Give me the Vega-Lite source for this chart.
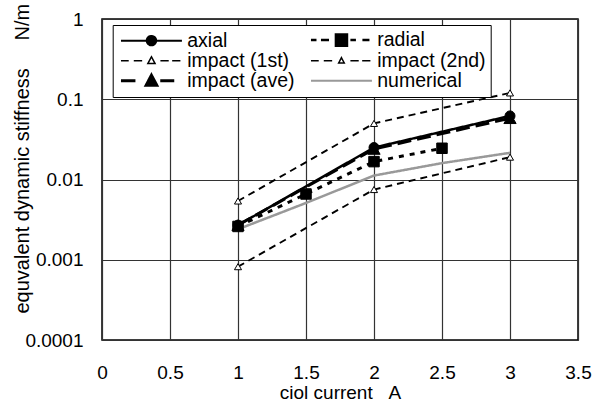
{
  "$schema": "https://vega.github.io/schema/vega-lite/v6.json",
  "width": 476,
  "height": 321,
  "autosize": {"type": "none"},
  "padding": {"left": 102, "top": 19, "right": 34, "bottom": 62},
  "background": "white",
  "config": {
    "view": {"stroke": "black", "strokeWidth": 1.5},
    "font": "Liberation Sans",
    "axis": {
      "domain": false, "ticks": false, "tickSize": 0, "grid": true,
      "gridColor": "#333333", "gridWidth": 1.2, "gridOpacity": 1,
      "labelFont": "Liberation Sans", "labelFontSize": 19, "labelColor": "black",
      "titleFont": "Liberation Sans", "titleFontSize": 19, "titleFontWeight": "normal", "titleColor": "black"
    }
  },
  "data": {
    "values": [
      {"series": "axial", "current": 1, "stiffness": 0.0027},
      {"series": "axial", "current": 2, "stiffness": 0.025},
      {"series": "axial", "current": 3, "stiffness": 0.062},
      {"series": "radial", "current": 1, "stiffness": 0.0026},
      {"series": "radial", "current": 1.5, "stiffness": 0.0066},
      {"series": "radial", "current": 2, "stiffness": 0.0167},
      {"series": "radial", "current": 2.5, "stiffness": 0.0245},
      {"series": "impact (1st)", "current": 1, "stiffness": 0.0054},
      {"series": "impact (1st)", "current": 2, "stiffness": 0.05},
      {"series": "impact (1st)", "current": 3, "stiffness": 0.12},
      {"series": "impact (2nd)", "current": 1, "stiffness": 0.00082},
      {"series": "impact (2nd)", "current": 2, "stiffness": 0.0075},
      {"series": "impact (2nd)", "current": 3, "stiffness": 0.019},
      {"series": "impact (ave)", "current": 1, "stiffness": 0.0027},
      {"series": "impact (ave)", "current": 2, "stiffness": 0.024},
      {"series": "impact (ave)", "current": 3, "stiffness": 0.058},
      {"series": "numerical", "current": 1, "stiffness": 0.0024},
      {"series": "numerical", "current": 1.5, "stiffness": 0.0051},
      {"series": "numerical", "current": 2, "stiffness": 0.0112},
      {"series": "numerical", "current": 2.5, "stiffness": 0.016},
      {"series": "numerical", "current": 3, "stiffness": 0.0215}
    ]
  },
  "layer": [
    {
      "mark": {"type": "line", "clip": true},
      "encoding": {
        "x": {
          "field": "current", "type": "quantitative",
          "scale": {"domain": [0, 3.5], "nice": false, "zero": false},
          "axis": {
            "values": [0, 0.5, 1, 1.5, 2, 2.5, 3, 3.5], "format": "~g",
            "labelFlush": false, "labelOverlap": false, "labelPadding": 23,
            "title": "ciol current\u00a0\u00a0\u00a0A", "titleY": 43, "titleBaseline": "top"
          }
        },
        "y": {
          "field": "stiffness", "type": "quantitative",
          "scale": {"type": "log", "domain": [0.0001, 1], "nice": false},
          "axis": {
            "values": [0.0001, 0.001, 0.01, 0.1, 1], "format": "~g",
            "labelPadding": 19, "labelOverlap": false, "labelFlush": false,
            "title": "equvalent dynamic stiffness\u00a0\u00a0\u00a0\u00a0\u00a0N/m",
            "titleFontSize": 20,
            "titleX": -73.5, "titleY": 294, "titleAlign": "left", "titleBaseline": "alphabetic", "titleAngle": 270
          }
        },
        "stroke": {
          "field": "series", "type": "nominal",
          "scale": {
            "domain": ["axial", "impact (1st)", "impact (ave)", "radial", "impact (2nd)", "numerical"],
            "range": ["black", "black", "black", "black", "black", "#999999"]
          },
          "legend": {
            "title": null, "orient": "none", "legendX": 10.7, "legendY": 6,
            "columns": 2, "columnPadding": 11, "rowPadding": -3, "padding": 5,
            "fillColor": "white", "strokeColor": "black",
            "symbolSize": 256, "symbolOffset": 24, "labelOffset": 26,
            "labelFont": "Liberation Sans", "labelFontSize": 19.5, "labelColor": "black", "labelLimit": 300,
            "encode": {
              "symbols": {
                "update": {
                  "shape": {"signal": "datum.value === 'axial' ? 'M-3.81,0H3.81M0.59,0A0.59,0.59,0,1,1,-0.59,0A0.59,0.59,0,1,1,0.59,0Z' : datum.value === 'radial' ? 'M-3.81,0H-3.12M-2.56,0H-1.56M1.12,0H1.81M2.62,0H3.5M-0.69,-0.69H0.69V0.69H-0.69Z' : datum.value === 'impact (1st)' ? 'M-3.81,0H-2.84M-2.21,0H-1.16M1.12,0H2.16M2.59,0H3.62M0,-0.5L0.45,0.35L-0.45,0.35Z' : datum.value === 'impact (2nd)' ? 'M-3.81,0H-2.84M-2.21,0H-1.16M1.12,0H2.16M2.59,0H3.62M0,-0.38L0.35,0.28L-0.35,0.28Z' : datum.value === 'impact (ave)' ? 'M-3.81,0H-2.0M1.1,0H2.85M0,-0.69L0.66,0.56L-0.66,0.56Z' : 'M-3.81,0H3.81'"},
                  "fill": {"signal": "datum.value === 'numerical' ? 'transparent' : (datum.value === 'impact (1st)' || datum.value === 'impact (2nd)') ? 'white' : 'black'"},
                  "stroke": {"signal": "datum.value === 'numerical' ? '#999999' : 'black'"},
                  "strokeWidth": {"signal": "datum.value === 'impact (ave)' ? 3 : datum.value === 'radial' ? 2.5 : (datum.value === 'impact (1st)' || datum.value === 'impact (2nd)') ? 1.5 : 2"},
                  "strokeDash": {"value": [1, 0]},
                  "opacity": {"value": 1}
                }
              }
            }
          }
        },
        "strokeDash": {
          "field": "series", "type": "nominal", "legend": null,
          "scale": {
            "domain": ["axial", "radial", "impact (1st)", "impact (2nd)", "impact (ave)", "numerical"],
            "range": [[1, 0], [5, 6], [7, 5], [7, 5], [14, 6], [1, 0]]
          }
        },
        "strokeWidth": {
          "field": "series", "type": "nominal", "legend": null,
          "scale": {
            "type": "ordinal",
            "domain": ["axial", "radial", "impact (1st)", "impact (2nd)", "impact (ave)", "numerical"],
            "range": [2.5, 3, 1.9, 1.9, 3, 2.5]
          }
        }
      }
    },
    {
      "transform": [{"filter": "datum.series !== 'numerical'"}],
      "mark": {"type": "point", "filled": true, "stroke": "black", "strokeWidth": 1, "opacity": 1},
      "encoding": {
        "x": {"field": "current", "type": "quantitative"},
        "y": {"field": "stiffness", "type": "quantitative"},
        "shape": {
          "field": "series", "type": "nominal", "legend": null,
          "scale": {
            "domain": ["axial", "radial", "impact (1st)", "impact (2nd)", "impact (ave)"],
            "range": ["circle", "square", "triangle-up", "triangle-up", "triangle-up"]
          }
        },
        "size": {
          "field": "series", "type": "nominal", "legend": null,
          "scale": {
            "type": "ordinal",
            "domain": ["axial", "radial", "impact (1st)", "impact (2nd)", "impact (ave)"],
            "range": [100, 110, 50, 50, 150]
          }
        },
        "fill": {
          "field": "series", "type": "nominal", "legend": null,
          "scale": {
            "domain": ["axial", "radial", "impact (1st)", "impact (2nd)", "impact (ave)"],
            "range": ["black", "black", "white", "white", "black"]
          }
        }
      }
    }
  ]
}
